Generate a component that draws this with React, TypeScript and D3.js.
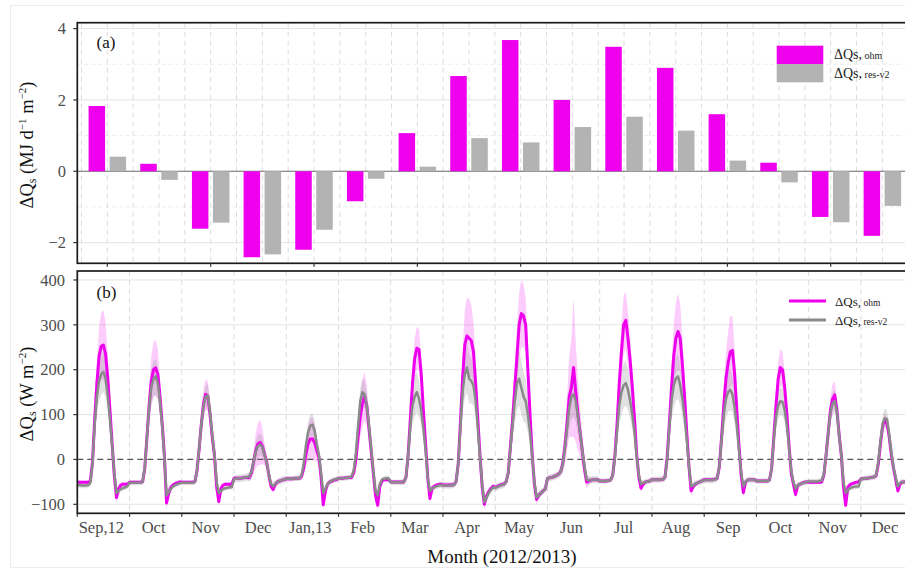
import React from 'react';
import * as d3 from 'd3';

// ---------- DATA ----------
const monthLabels = ['Sep,12', 'Oct', 'Nov', 'Dec', 'Jan,13', 'Feb', 'Mar', 'Apr', 'May', 'Jun', 'Jul', 'Aug', 'Sep', 'Oct', 'Nov', 'Dec'];

// panel (a): monthly mean daily storage (MJ d-1 m-2)
const ohmMonthly = [1.83, 0.21, -1.61, -2.41, -2.2, -0.84, 1.07, 2.67, 3.68, 2.0, 3.49, 2.9, 1.6, 0.24, -1.28, -1.81];
const resMonthly = [0.41, -0.24, -1.44, -2.33, -1.64, -0.21, 0.13, 0.93, 0.81, 1.24, 1.53, 1.14, 0.3, -0.31, -1.43, -0.97];

const topYTicks = [-2, 0, 2, 4];
const topYMinor = [-1, 1, 3];
const bottomYTicks = [-100, 0, 100, 200, 300, 400];

// panel (b): monthly mean diurnal cycle (hours 0..23), W m-2
const ohmHourly = [
  [-51, -51, -51, -51, -51, -51, -48, -5, 90, 170, 230, 252, 255, 235, 180, 110, 35, -35, -85, -65, -57, -55, -55, -55],
  [-51, -51, -51, -51, -51, -51, -50, -20, 50, 120, 175, 200, 204, 190, 140, 80, 10, -97, -75, -62, -57, -54, -52, -50],
  [-51, -51, -51, -51, -51, -51, -50, -25, 25, 80, 125, 145, 140, 100, 50, 10, -60, -94, -65, -57, -55, -55, -55, -55],
  [-42, -42, -42, -42, -41, -40, -40, -40, -30, -5, 20, 35, 38, 30, 12, -5, -35, -60, -67, -55, -50, -48, -46, -45],
  [-43, -43, -43, -43, -42, -42, -42, -38, -20, 10, 35, 45, 46, 38, 20, 5, -40, -101, -70, -55, -50, -48, -46, -45],
  [-42, -42, -42, -41, -41, -40, -40, -30, 0, 50, 95, 125, 140, 120, 70, 20, -30, -80, -102, -60, -48, -45, -45, -45],
  [-50, -50, -50, -50, -50, -50, -50, -40, 10, 90, 170, 225, 248, 245, 190, 110, 35, -40, -87, -65, -60, -57, -56, -55],
  [-57, -57, -57, -57, -57, -56, -50, -10, 80, 180, 255, 275, 270, 265, 240, 170, 90, 10, -60, -100, -82, -72, -65, -60],
  [-62, -60, -58, -56, -55, -50, -30, 30, 90, 160, 230, 300, 325, 320, 300, 200, 100, 10, -55, -89, -80, -75, -70, -66],
  [-42, -41, -40, -38, -36, -33, -28, -10, 30, 80, 140, 160, 205, 150, 100, 60, 20, -20, -50, -48, -46, -45, -45, -45],
  [-48, -48, -48, -48, -47, -46, -35, 10, 80, 170, 240, 300, 310, 270, 220, 160, 90, 10, -40, -64, -55, -50, -49, -48],
  [-45, -45, -45, -45, -45, -44, -40, 5, 80, 160, 230, 270, 285, 270, 210, 140, 60, -15, -70, -60, -55, -52, -50, -48],
  [-45, -45, -45, -45, -45, -44, -42, -15, 50, 120, 180, 215, 240, 243, 190, 110, 30, -35, -74, -50, -46, -45, -45, -45],
  [-48, -48, -48, -48, -48, -48, -46, -20, 50, 120, 180, 205, 200, 160, 100, 30, -30, -55, -78, -58, -55, -53, -51, -50],
  [-51, -51, -51, -51, -51, -51, -50, -35, 10, 60, 110, 135, 144, 110, 55, 10, -60, -102, -62, -56, -54, -52, -51, -50],
  [-43, -43, -42, -42, -41, -40, -39, -36, -10, 35, 75, 88, 80, 50, 10, -20, -45, -70, -55, -50, -50, -50, -50, -50],
];

const resHourly = [
  [-57, -57, -58, -58, -58, -57, -52, -8, 80, 140, 175, 190, 195, 180, 140, 90, 30, -30, -75, -70, -66, -64, -62, -60],
  [-52, -52, -52, -52, -52, -52, -50, -18, 50, 115, 160, 180, 185, 170, 130, 75, 5, -80, -72, -65, -60, -57, -55, -53],
  [-52, -52, -52, -52, -52, -52, -50, -25, 25, 80, 120, 140, 143, 105, 55, 12, -50, -75, -70, -66, -64, -63, -62, -62],
  [-43, -43, -42, -42, -41, -40, -39, -38, -28, -5, 18, 30, 33, 28, 10, -6, -33, -55, -60, -54, -50, -48, -46, -45],
  [-43, -43, -43, -43, -42, -42, -42, -36, -10, 30, 60, 75, 78, 65, 35, 10, -30, -75, -65, -55, -50, -47, -45, -44],
  [-42, -42, -42, -41, -41, -40, -38, -25, 15, 75, 130, 150, 145, 120, 75, 25, -25, -70, -80, -55, -45, -43, -42, -42],
  [-51, -51, -51, -51, -51, -51, -50, -40, 10, 75, 120, 140, 150, 135, 110, 70, 20, -40, -70, -65, -62, -60, -58, -57],
  [-58, -58, -58, -58, -58, -57, -50, -10, 70, 150, 190, 205, 180, 175, 165, 130, 70, 5, -55, -95, -85, -75, -68, -62],
  [-63, -61, -59, -57, -56, -50, -30, 25, 80, 130, 170, 180, 160, 140, 130, 100, 60, 5, -50, -85, -80, -75, -70, -66],
  [-42, -41, -40, -38, -36, -33, -28, -12, 25, 70, 115, 140, 145, 130, 95, 60, 20, -15, -45, -47, -46, -45, -45, -45],
  [-48, -48, -48, -48, -47, -46, -36, 5, 65, 120, 150, 165, 170, 155, 130, 100, 60, 5, -35, -55, -52, -50, -49, -48],
  [-45, -45, -45, -45, -45, -44, -40, 0, 70, 130, 165, 180, 185, 165, 135, 95, 45, -15, -60, -58, -54, -52, -50, -48],
  [-46, -46, -46, -46, -46, -45, -42, -15, 45, 100, 135, 150, 155, 145, 115, 75, 20, -30, -60, -50, -46, -45, -45, -45],
  [-48, -48, -48, -48, -48, -48, -46, -20, 45, 95, 120, 130, 128, 110, 75, 25, -25, -50, -65, -58, -55, -53, -52, -51],
  [-49, -49, -49, -49, -49, -48, -47, -32, 10, 60, 105, 125, 130, 105, 55, 10, -50, -75, -68, -64, -62, -61, -60, -60],
  [-43, -43, -42, -42, -41, -40, -39, -35, -5, 40, 80, 92, 90, 55, 15, -18, -40, -60, -52, -50, -50, -50, -50, -50],
];

// half-width of the shaded bands
const ohmSpread = [
  [4, 4, 4, 4, 4, 5, 8, 20, 35, 50, 65, 75, 78, 70, 55, 40, 30, 25, 15, 8, 6, 5, 5, 5],
  [4, 4, 4, 4, 4, 4, 6, 15, 30, 45, 55, 60, 63, 55, 45, 30, 25, 15, 10, 6, 5, 5, 4, 4],
  [4, 4, 4, 4, 4, 4, 5, 10, 20, 28, 32, 35, 33, 25, 20, 15, 12, 10, 8, 5, 4, 4, 4, 4],
  [5, 5, 5, 5, 5, 5, 5, 8, 15, 25, 40, 48, 50, 40, 25, 15, 12, 10, 8, 6, 5, 5, 5, 5],
  [5, 5, 5, 5, 5, 5, 5, 8, 15, 25, 40, 45, 49, 40, 25, 15, 12, 10, 8, 6, 5, 5, 5, 5],
  [4, 4, 4, 4, 4, 4, 5, 10, 20, 35, 45, 52, 55, 45, 35, 20, 15, 12, 10, 6, 5, 4, 4, 4],
  [4, 4, 4, 4, 4, 4, 5, 10, 20, 30, 40, 45, 48, 45, 35, 25, 15, 12, 10, 6, 5, 4, 4, 4],
  [5, 5, 5, 5, 5, 5, 8, 20, 40, 60, 75, 85, 88, 80, 65, 50, 35, 25, 18, 12, 8, 6, 5, 5],
  [5, 5, 5, 5, 5, 6, 10, 25, 40, 55, 65, 72, 75, 70, 60, 50, 35, 25, 18, 12, 8, 6, 5, 5],
  [5, 5, 5, 5, 6, 6, 8, 20, 40, 60, 90, 110, 155, 110, 80, 55, 35, 25, 15, 8, 6, 5, 5, 5],
  [4, 4, 4, 4, 4, 5, 8, 20, 35, 50, 60, 65, 65, 60, 50, 40, 30, 20, 12, 8, 5, 4, 4, 4],
  [4, 4, 4, 4, 4, 5, 8, 20, 35, 55, 70, 80, 85, 75, 60, 45, 30, 20, 12, 8, 5, 4, 4, 4],
  [4, 4, 4, 4, 4, 4, 6, 15, 30, 45, 60, 70, 80, 75, 55, 40, 25, 15, 10, 6, 5, 4, 4, 4],
  [4, 4, 4, 4, 4, 4, 5, 10, 20, 30, 38, 42, 40, 35, 25, 18, 12, 10, 8, 5, 4, 4, 4, 4],
  [4, 4, 4, 4, 4, 4, 5, 10, 18, 25, 30, 33, 30, 25, 18, 12, 10, 8, 6, 5, 4, 4, 4, 4],
  [4, 4, 4, 4, 4, 4, 4, 6, 10, 12, 14, 15, 15, 12, 10, 8, 8, 6, 5, 4, 4, 4, 4, 4],
];

const resSpread = [
  [6, 6, 6, 6, 6, 6, 8, 15, 30, 40, 45, 45, 45, 40, 35, 30, 20, 15, 10, 8, 6, 6, 6, 6],
  [5, 5, 5, 5, 5, 5, 7, 12, 25, 35, 40, 40, 40, 35, 30, 25, 15, 12, 10, 8, 6, 5, 5, 5],
  [5, 5, 5, 5, 5, 5, 6, 10, 18, 22, 25, 25, 25, 22, 18, 14, 12, 10, 8, 6, 5, 5, 5, 5],
  [8, 8, 8, 8, 8, 8, 8, 10, 15, 20, 22, 25, 25, 22, 18, 14, 12, 10, 10, 8, 8, 8, 8, 8],
  [6, 6, 6, 6, 6, 6, 6, 8, 15, 20, 22, 25, 25, 22, 18, 14, 12, 10, 8, 7, 6, 6, 6, 6],
  [6, 6, 6, 6, 6, 6, 7, 10, 20, 25, 30, 30, 30, 28, 22, 16, 12, 10, 8, 7, 6, 6, 6, 6],
  [6, 6, 6, 6, 6, 6, 7, 12, 25, 35, 40, 45, 45, 40, 32, 25, 18, 12, 10, 8, 6, 6, 6, 6],
  [7, 7, 7, 7, 7, 7, 9, 15, 30, 45, 55, 55, 55, 50, 45, 35, 25, 18, 12, 10, 8, 7, 7, 7],
  [8, 8, 8, 8, 8, 8, 10, 18, 35, 50, 60, 60, 60, 55, 50, 40, 30, 20, 14, 10, 8, 8, 8, 8],
  [8, 8, 8, 8, 8, 8, 10, 15, 30, 40, 50, 50, 50, 45, 40, 30, 22, 15, 12, 10, 8, 8, 8, 8],
  [6, 6, 6, 6, 6, 6, 8, 15, 30, 40, 50, 50, 50, 45, 40, 32, 24, 16, 12, 8, 6, 6, 6, 6],
  [7, 7, 7, 7, 7, 7, 9, 16, 30, 42, 50, 50, 50, 45, 40, 30, 22, 15, 12, 9, 7, 7, 7, 7],
  [7, 7, 7, 7, 7, 7, 8, 14, 28, 38, 45, 45, 45, 40, 35, 25, 18, 12, 10, 8, 7, 7, 7, 7],
  [6, 6, 6, 6, 6, 6, 7, 10, 20, 25, 30, 30, 30, 26, 20, 15, 12, 10, 8, 7, 6, 6, 6, 6],
  [6, 6, 6, 6, 6, 6, 7, 10, 18, 22, 25, 25, 25, 22, 18, 14, 10, 8, 7, 6, 6, 6, 6, 6],
  [6, 6, 6, 6, 6, 6, 6, 8, 12, 16, 20, 21, 21, 18, 14, 10, 8, 7, 6, 6, 6, 6, 6, 6],
];

// ---------- STYLE ----------
const MAGENTA = '#EE00EE';
const BAR_GRAY = '#B3B3B3';
const LINE_GRAY = '#8A8A8A';
const FONT = "'Liberation Serif', 'Times New Roman', serif";
const TICK_COLOR = '#4D4D4D';

type Pt = { t: number; v: number; s: number };
const toPoints = (vals: number[][], spread: number[][]): Pt[] =>
  vals.flatMap((row, m) => row.map((v, h) => ({ t: m + h / 24, v, s: spread[m][h] })));

export default function App() {
  const W = 905;
  const H = 572;
  const left = 77.3;
  const right = 913;
  const aTop = 22.7;
  const aBot = 263.3;
  const bTop = 271;
  const bBot = 513.3;

  const n = monthLabels.length;
  const xBand = d3.scaleBand<number>().domain(d3.range(n)).range([81.5, 81.5 + n * 51.67]).padding(0);
  const bw = xBand.bandwidth();
  const xSub = d3.scaleBand<string>().domain(['ohm', 'res']).range([0, bw]).paddingInner(0.214).paddingOuter(0.337);
  const yA = d3.scaleLinear().domain([-2.58, 4.166]).range([aBot, aTop]);

  const xB = d3.scaleLinear().domain([0, n]).range([left, left + n * 52.24]);
  const yB = d3.scaleLinear().domain([-120, 420]).range([bBot, bTop]);

  const ohmPts = toPoints(ohmHourly, ohmSpread);
  const resPts = toPoints(resHourly, resSpread);

  const line = d3.line<Pt>().x((d) => xB(d.t)).y((d) => yB(d.v));
  const area = d3
    .area<Pt>()
    .x((d) => xB(d.t))
    .y0((d) => yB(d.v - d.s))
    .y1((d) => yB(d.v + d.s));

  const fmt = (v: number) => (v < 0 ? '\u2212' + Math.abs(v) : String(v));

  const topBoundaries = d3.range(n + 1).map((i) => (i < n ? (xBand(i) as number) : (xBand(n - 1) as number) + bw));
  const topCenters = d3.range(n).map((i) => (xBand(i) as number) + bw / 2);

  return (
    <svg
      width={W}
      height={H}
      style={{ position: 'absolute', left: 0, top: 0, background: '#fff' }}
      fontFamily={FONT}
    >
      <defs>
        <clipPath id="clipA">
          <rect x={left} y={aTop} width={right - left} height={aBot - aTop} />
        </clipPath>
        <clipPath id="clipB">
          <rect x={left} y={bTop} width={right - left} height={bBot - bTop} />
        </clipPath>
      </defs>
      <rect x={0} y={0} width={W} height={H} fill="#fff" />
      <rect x={10.5} y={5.5} width={W} height={562} fill="none" stroke="#ececec" />

      {/* ---------- PANEL A ---------- */}
      <g clipPath="url(#clipA)">
        {topYTicks.filter((t) => t !== 0).map((t) => (
          <line key={'ag' + t} x1={left} x2={right} y1={yA(t)} y2={yA(t)} stroke="#e4e4e4" strokeWidth={1} />
        ))}
        {topYMinor.map((t) => (
          <line key={'am' + t} x1={left} x2={right} y1={yA(t)} y2={yA(t)} stroke="#ececec" strokeWidth={1} strokeDasharray="4,3" />
        ))}
        {topBoundaries.concat(topCenters).map((x, i) => (
          <line key={'av' + i} x1={x} x2={x} y1={aTop} y2={aBot} stroke="#dcdcdc" strokeWidth={1} strokeDasharray="5,4" />
        ))}
        <line x1={left} x2={right} y1={yA(0)} y2={yA(0)} stroke="#6a6a6a" strokeWidth={1.1} />
        {ohmMonthly.map((v, i) => (
          <rect
            key={'bo' + i}
            x={(xBand(i) as number) + (xSub('ohm') as number)}
            width={xSub.bandwidth()}
            y={yA(Math.max(0, v))}
            height={Math.abs(yA(v) - yA(0))}
            fill={MAGENTA}
          />
        ))}
        {resMonthly.map((v, i) => (
          <rect
            key={'br' + i}
            x={(xBand(i) as number) + (xSub('res') as number)}
            width={xSub.bandwidth()}
            y={yA(Math.max(0, v))}
            height={Math.abs(yA(v) - yA(0))}
            fill={BAR_GRAY}
          />
        ))}
      </g>
      <rect x={left} y={aTop} width={right - left} height={aBot - aTop} fill="none" stroke="#1a1a1a" strokeWidth={1.7} />
      {topYTicks.map((t) => (
        <g key={'at' + t}>
          <line x1={left - 4} x2={left} y1={yA(t)} y2={yA(t)} stroke="#333" strokeWidth={1.2} />
          <text x={66} y={yA(t)} dy="0.35em" textAnchor="end" fontSize={16.5} fill={TICK_COLOR}>
            {fmt(t)}
          </text>
        </g>
      ))}
      {topCenters.filter((_, i) => i % 2 === 0).map((x, i) => (
        <line key={'axt' + i} x1={x} x2={x} y1={aBot} y2={aBot + 3.5} stroke="#333" strokeWidth={1.2} />
      ))}
      <text x={96.5} y={48} fontSize={17} fill="#111">(a)</text>
      {/* legend a */}
      <rect x={776.7} y={45.7} width={46.6} height={18.3} fill={MAGENTA} />
      <rect x={776.7} y={64} width={46.6} height={18.3} fill={BAR_GRAY} />
      <text x={834} y={59} fontSize={14} fill="#222">
        ΔQs,<tspan fontSize={10}> ohm</tspan>
      </text>
      <text x={834} y={78} fontSize={14} fill="#222">
        ΔQs,<tspan fontSize={10}> res-v2</tspan>
      </text>
      <text transform="translate(33,145) rotate(-90)" textAnchor="middle" fontSize={18.5} fill="#111">
        ΔQ<tspan fontSize={12} dy={3}>s</tspan>
        <tspan dy={-3}>{' (MJ d'}</tspan>
        <tspan fontSize={11} dy={-7}>{'\u22121'}</tspan>
        <tspan dy={7}>{' m'}</tspan>
        <tspan fontSize={11} dy={-7}>{'\u22122'}</tspan>
        <tspan dy={7}>)</tspan>
      </text>

      {/* ---------- PANEL B ---------- */}
      <g clipPath="url(#clipB)">
        {bottomYTicks.filter((t) => t !== 0).map((t) => (
          <line key={'bg' + t} x1={left} x2={right} y1={yB(t)} y2={yB(t)} stroke="#e4e4e4" strokeWidth={1} />
        ))}
        {d3.range(1, n).map((m) => (
          <line key={'bv' + m} x1={xB(m)} x2={xB(m)} y1={bTop} y2={bBot} stroke="#dcdcdc" strokeWidth={1} strokeDasharray="5,4" />
        ))}
        <path d={area(ohmPts) || ''} fill={MAGENTA} fillOpacity={0.2} stroke="none" />
        <path d={area(resPts) || ''} fill="#9a9a9a" fillOpacity={0.3} stroke="none" />
        <line x1={left} x2={right} y1={yB(0)} y2={yB(0)} stroke="#555" strokeWidth={1.2} strokeDasharray="6,4" />
        <path d={line(ohmPts) || ''} fill="none" stroke={MAGENTA} strokeWidth={3} strokeLinejoin="round" />
        <path d={line(resPts) || ''} fill="none" stroke={LINE_GRAY} strokeWidth={2.5} strokeLinejoin="round" />
      </g>
      <rect x={left} y={bTop} width={right - left} height={bBot - bTop} fill="none" stroke="#1a1a1a" strokeWidth={1.7} />
      {bottomYTicks.map((t) => (
        <g key={'bt' + t}>
          <line x1={left - 4} x2={left} y1={yB(t)} y2={yB(t)} stroke="#333" strokeWidth={1.2} />
          <text x={65} y={yB(t)} dy="0.35em" textAnchor="end" fontSize={16.5} fill={TICK_COLOR}>
            {fmt(t)}
          </text>
        </g>
      ))}
      {d3.range(0, n).map((m) => (
        <line key={'bxt' + m} x1={xB(m)} x2={xB(m)} y1={bBot} y2={bBot + 3.5} stroke="#333" strokeWidth={1.2} />
      ))}
      {monthLabels.map((lab, m) => (
        <text key={'ml' + m} x={xB(m + 0.46)} y={533} textAnchor="middle" fontSize={16.5} fill={TICK_COLOR}>
          {lab}
        </text>
      ))}
      <text x={502} y={563} textAnchor="middle" fontSize={19} fill="#111">
        Month (2012/2013)
      </text>
      <text x={96.5} y={298} fontSize={17} fill="#111">(b)</text>
      {/* legend b */}
      <line x1={789} x2={826} y1={301} y2={301} stroke={MAGENTA} strokeWidth={3} />
      <line x1={789} x2={826} y1={320} y2={320} stroke={LINE_GRAY} strokeWidth={3} />
      <text x={835} y={306} fontSize={13} fill="#222">
        ΔQs,<tspan fontSize={9.5}> ohm</tspan>
      </text>
      <text x={835} y={325} fontSize={13} fill="#222">
        ΔQs,<tspan fontSize={9.5}> res-v2</tspan>
      </text>
      <text transform="translate(33,394) rotate(-90)" textAnchor="middle" fontSize={18.5} fill="#111">
        ΔQ<tspan fontSize={12} dy={3}>s</tspan>
        <tspan dy={-3}>{' (W m'}</tspan>
        <tspan fontSize={11} dy={-7}>{'\u22122'}</tspan>
        <tspan dy={7}>)</tspan>
      </text>
    </svg>
  );
}
